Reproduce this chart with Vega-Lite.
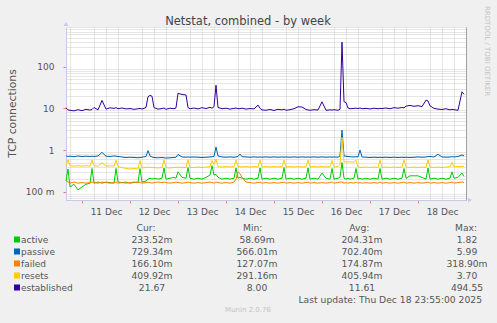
{
"$schema": "https://vega.github.io/schema/vega-lite/v6.json",
"width": 400, "height": 173,
"autosize": "none",
"padding": {"left": 66, "top": 27, "right": 31, "bottom": 123},
"background": "#f0f0f0",
"view": {"fill": "white", "stroke": null},
"config": {"font": "DejaVu Sans"},
"datasets": {
"main": [
{"t":"2025-12-10T16:00","a":0.18,"p":0.72,"f":0.18,"r":0.42,"e":10.3},
{"t":"2025-12-10T17:00","a":0.35,"p":0.70,"f":0.17,"r":0.58,"e":9.2},
{"t":"2025-12-10T18:00","a":0.13,"p":0.71,"f":0.16,"r":0.42,"e":9.0},
{"t":"2025-12-10T20:00","a":0.15,"p":0.69,"f":0.17,"r":0.41,"e":8.7},
{"t":"2025-12-10T22:00","a":0.11,"p":0.72,"f":0.16,"r":0.42,"e":9.3},
{"t":"2025-12-11T00:00","a":0.13,"p":0.70,"f":0.165,"r":0.41,"e":8.8},
{"t":"2025-12-11T02:00","a":0.15,"p":0.71,"f":0.16,"r":0.42,"e":9.5},
{"t":"2025-12-11T04:00","a":0.16,"p":0.70,"f":0.165,"r":0.41,"e":9.1},
{"t":"2025-12-11T05:00","a":0.36,"p":0.71,"f":0.17,"r":0.58,"e":9.4},
{"t":"2025-12-11T06:00","a":0.16,"p":0.70,"f":0.165,"r":0.42,"e":10.5},
{"t":"2025-12-11T08:00","a":0.17,"p":0.72,"f":0.16,"r":0.41,"e":9.2},
{"t":"2025-12-11T10:00","a":0.16,"p":0.88,"f":0.17,"r":0.50,"e":15.5},
{"t":"2025-12-11T12:00","a":0.17,"p":0.71,"f":0.165,"r":0.41,"e":9.6},
{"t":"2025-12-11T14:00","a":0.165,"p":0.70,"f":0.16,"r":0.42,"e":10.3},
{"t":"2025-12-11T16:00","a":0.16,"p":0.72,"f":0.165,"r":0.41,"e":10.0},
{"t":"2025-12-11T17:00","a":0.36,"p":0.71,"f":0.17,"r":0.57,"e":10.4},
{"t":"2025-12-11T18:00","a":0.17,"p":0.70,"f":0.16,"r":0.40,"e":9.8},
{"t":"2025-12-11T20:00","a":0.165,"p":0.68,"f":0.165,"r":0.38,"e":10.2},
{"t":"2025-12-11T22:00","a":0.17,"p":0.66,"f":0.16,"r":0.36,"e":9.7},
{"t":"2025-12-12T00:00","a":0.16,"p":0.67,"f":0.165,"r":0.35,"e":9.9},
{"t":"2025-12-12T02:00","a":0.165,"p":0.66,"f":0.17,"r":0.36,"e":9.5},
{"t":"2025-12-12T04:00","a":0.17,"p":0.65,"f":0.165,"r":0.35,"e":9.8},
{"t":"2025-12-12T05:00","a":0.36,"p":0.66,"f":0.17,"r":0.56,"e":10.0},
{"t":"2025-12-12T06:00","a":0.17,"p":0.67,"f":0.16,"r":0.37,"e":9.6},
{"t":"2025-12-12T08:00","a":0.18,"p":0.70,"f":0.165,"r":0.38,"e":10.5},
{"t":"2025-12-12T09:00","a":0.20,"p":0.97,"f":0.17,"r":0.39,"e":19.0},
{"t":"2025-12-12T10:00","a":0.21,"p":0.72,"f":0.165,"r":0.38,"e":20.5},
{"t":"2025-12-12T11:00","a":0.20,"p":0.68,"f":0.16,"r":0.38,"e":19.5},
{"t":"2025-12-12T12:00","a":0.21,"p":0.66,"f":0.165,"r":0.38,"e":10.4},
{"t":"2025-12-12T14:00","a":0.20,"p":0.65,"f":0.17,"r":0.37,"e":9.6},
{"t":"2025-12-12T16:00","a":0.21,"p":0.66,"f":0.165,"r":0.38,"e":9.9},
{"t":"2025-12-12T17:00","a":0.37,"p":0.65,"f":0.17,"r":0.58,"e":10.2},
{"t":"2025-12-12T18:00","a":0.20,"p":0.64,"f":0.165,"r":0.38,"e":9.5},
{"t":"2025-12-12T20:00","a":0.21,"p":0.65,"f":0.16,"r":0.37,"e":10.1},
{"t":"2025-12-12T22:00","a":0.22,"p":0.66,"f":0.165,"r":0.38,"e":9.8},
{"t":"2025-12-12T23:00","a":0.21,"p":0.67,"f":0.17,"r":0.38,"e":10.3},
{"t":"2025-12-13T00:00","a":0.30,"p":0.78,"f":0.165,"r":0.39,"e":23.0},
{"t":"2025-12-13T02:00","a":0.22,"p":0.68,"f":0.16,"r":0.38,"e":21.5},
{"t":"2025-12-13T04:00","a":0.21,"p":0.67,"f":0.165,"r":0.38,"e":21.0},
{"t":"2025-12-13T05:00","a":0.38,"p":0.68,"f":0.17,"r":0.58,"e":10.5},
{"t":"2025-12-13T06:00","a":0.21,"p":0.67,"f":0.165,"r":0.38,"e":9.8},
{"t":"2025-12-13T08:00","a":0.20,"p":0.68,"f":0.16,"r":0.38,"e":10.2},
{"t":"2025-12-13T10:00","a":0.21,"p":0.67,"f":0.165,"r":0.39,"e":9.7},
{"t":"2025-12-13T12:00","a":0.20,"p":0.66,"f":0.16,"r":0.38,"e":10.4},
{"t":"2025-12-13T14:00","a":0.22,"p":0.67,"f":0.165,"r":0.39,"e":9.9},
{"t":"2025-12-13T16:00","a":0.25,"p":0.68,"f":0.17,"r":0.40,"e":10.6},
{"t":"2025-12-13T17:00","a":0.42,"p":0.69,"f":0.165,"r":0.56,"e":10.1},
{"t":"2025-12-13T18:00","a":0.25,"p":0.70,"f":0.16,"r":0.45,"e":11.0},
{"t":"2025-12-13T19:00","a":0.26,"p":1.18,"f":0.17,"r":0.60,"e":36.0},
{"t":"2025-12-13T20:00","a":0.22,"p":0.72,"f":0.165,"r":0.40,"e":10.5},
{"t":"2025-12-13T22:00","a":0.20,"p":0.68,"f":0.16,"r":0.39,"e":9.8},
{"t":"2025-12-14T00:00","a":0.21,"p":0.67,"f":0.165,"r":0.40,"e":10.1},
{"t":"2025-12-14T02:00","a":0.20,"p":0.68,"f":0.16,"r":0.39,"e":9.6},
{"t":"2025-12-14T04:00","a":0.21,"p":0.67,"f":0.17,"r":0.40,"e":10.0},
{"t":"2025-12-14T05:00","a":0.37,"p":0.68,"f":0.20,"r":0.57,"e":10.2},
{"t":"2025-12-14T06:00","a":0.21,"p":0.70,"f":0.30,"r":0.40,"e":9.8},
{"t":"2025-12-14T07:00","a":0.22,"p":0.80,"f":0.27,"r":0.40,"e":9.9},
{"t":"2025-12-14T08:00","a":0.21,"p":0.69,"f":0.22,"r":0.39,"e":10.1},
{"t":"2025-12-14T10:00","a":0.20,"p":0.68,"f":0.17,"r":0.40,"e":9.6},
{"t":"2025-12-14T12:00","a":0.21,"p":0.67,"f":0.165,"r":0.39,"e":9.9},
{"t":"2025-12-14T14:00","a":0.20,"p":0.68,"f":0.16,"r":0.40,"e":9.7},
{"t":"2025-12-14T16:00","a":0.21,"p":0.67,"f":0.165,"r":0.39,"e":12.0},
{"t":"2025-12-14T17:00","a":0.37,"p":0.68,"f":0.17,"r":0.57,"e":10.0},
{"t":"2025-12-14T18:00","a":0.20,"p":0.67,"f":0.16,"r":0.39,"e":9.2},
{"t":"2025-12-14T20:00","a":0.21,"p":0.68,"f":0.165,"r":0.40,"e":9.0},
{"t":"2025-12-14T22:00","a":0.20,"p":0.67,"f":0.16,"r":0.39,"e":9.4},
{"t":"2025-12-15T00:00","a":0.21,"p":0.68,"f":0.165,"r":0.40,"e":8.9},
{"t":"2025-12-15T02:00","a":0.20,"p":0.67,"f":0.16,"r":0.39,"e":9.5},
{"t":"2025-12-15T04:00","a":0.21,"p":0.68,"f":0.165,"r":0.40,"e":9.2},
{"t":"2025-12-15T05:00","a":0.38,"p":0.67,"f":0.17,"r":0.57,"e":9.6},
{"t":"2025-12-15T06:00","a":0.20,"p":0.68,"f":0.16,"r":0.39,"e":9.0},
{"t":"2025-12-15T08:00","a":0.21,"p":0.67,"f":0.165,"r":0.40,"e":9.3},
{"t":"2025-12-15T10:00","a":0.20,"p":0.68,"f":0.16,"r":0.39,"e":9.8},
{"t":"2025-12-15T12:00","a":0.21,"p":0.67,"f":0.165,"r":0.40,"e":10.9},
{"t":"2025-12-15T14:00","a":0.20,"p":0.68,"f":0.16,"r":0.39,"e":10.8},
{"t":"2025-12-15T16:00","a":0.21,"p":0.67,"f":0.165,"r":0.40,"e":9.4},
{"t":"2025-12-15T17:00","a":0.37,"p":0.68,"f":0.17,"r":0.57,"e":9.2},
{"t":"2025-12-15T18:00","a":0.20,"p":0.67,"f":0.16,"r":0.39,"e":9.0},
{"t":"2025-12-15T20:00","a":0.21,"p":0.68,"f":0.165,"r":0.40,"e":9.3},
{"t":"2025-12-15T22:00","a":0.20,"p":0.67,"f":0.16,"r":0.39,"e":9.1},
{"t":"2025-12-16T00:00","a":0.28,"p":0.68,"f":0.165,"r":0.40,"e":14.4},
{"t":"2025-12-16T02:00","a":0.21,"p":0.67,"f":0.16,"r":0.39,"e":9.0},
{"t":"2025-12-16T04:00","a":0.20,"p":0.68,"f":0.165,"r":0.40,"e":9.2},
{"t":"2025-12-16T05:00","a":0.36,"p":0.67,"f":0.17,"r":0.56,"e":9.1},
{"t":"2025-12-16T06:00","a":0.20,"p":0.68,"f":0.16,"r":0.39,"e":9.3},
{"t":"2025-12-16T08:00","a":0.21,"p":0.67,"f":0.165,"r":0.40,"e":9.0},
{"t":"2025-12-16T09:00","a":0.22,"p":0.72,"f":0.17,"r":0.45,"e":9.5},
{"t":"2025-12-16T10:00","a":0.50,"p":3.0,"f":0.17,"r":2.0,"e":390},
{"t":"2025-12-16T11:00","a":0.21,"p":0.72,"f":0.16,"r":0.52,"e":14.4},
{"t":"2025-12-16T12:00","a":0.20,"p":0.71,"f":0.165,"r":0.52,"e":13.8},
{"t":"2025-12-16T13:00","a":0.21,"p":0.70,"f":0.16,"r":0.52,"e":10.2},
{"t":"2025-12-16T14:00","a":0.20,"p":0.69,"f":0.165,"r":0.52,"e":9.8},
{"t":"2025-12-16T16:00","a":0.21,"p":0.68,"f":0.16,"r":0.51,"e":10.0},
{"t":"2025-12-16T17:00","a":0.36,"p":0.69,"f":0.17,"r":0.57,"e":10.1},
{"t":"2025-12-16T18:00","a":0.20,"p":0.68,"f":0.16,"r":0.39,"e":9.9},
{"t":"2025-12-16T19:00","a":0.21,"p":1.0,"f":0.165,"r":0.39,"e":10.2},
{"t":"2025-12-16T20:00","a":0.20,"p":0.68,"f":0.16,"r":0.38,"e":9.8},
{"t":"2025-12-16T22:00","a":0.21,"p":0.67,"f":0.165,"r":0.39,"e":10.0},
{"t":"2025-12-17T00:00","a":0.20,"p":0.66,"f":0.16,"r":0.38,"e":9.7},
{"t":"2025-12-17T02:00","a":0.21,"p":0.67,"f":0.165,"r":0.39,"e":10.1},
{"t":"2025-12-17T04:00","a":0.20,"p":0.66,"f":0.16,"r":0.38,"e":9.8},
{"t":"2025-12-17T05:00","a":0.36,"p":0.67,"f":0.17,"r":0.57,"e":10.0},
{"t":"2025-12-17T06:00","a":0.20,"p":0.66,"f":0.16,"r":0.38,"e":9.9},
{"t":"2025-12-17T08:00","a":0.21,"p":0.67,"f":0.165,"r":0.39,"e":10.2},
{"t":"2025-12-17T10:00","a":0.20,"p":0.66,"f":0.16,"r":0.38,"e":9.8},
{"t":"2025-12-17T12:00","a":0.21,"p":0.67,"f":0.165,"r":0.39,"e":10.4},
{"t":"2025-12-17T14:00","a":0.20,"p":0.66,"f":0.16,"r":0.38,"e":10.1},
{"t":"2025-12-17T16:00","a":0.21,"p":0.67,"f":0.165,"r":0.39,"e":10.5},
{"t":"2025-12-17T17:00","a":0.36,"p":0.66,"f":0.17,"r":0.58,"e":10.3},
{"t":"2025-12-17T18:00","a":0.21,"p":0.67,"f":0.16,"r":0.39,"e":11.3},
{"t":"2025-12-17T20:00","a":0.24,"p":0.66,"f":0.165,"r":0.38,"e":11.8},
{"t":"2025-12-17T22:00","a":0.24,"p":0.67,"f":0.16,"r":0.39,"e":11.2},
{"t":"2025-12-18T00:00","a":0.24,"p":0.68,"f":0.165,"r":0.38,"e":11.6},
{"t":"2025-12-18T02:00","a":0.22,"p":0.67,"f":0.16,"r":0.39,"e":11.0},
{"t":"2025-12-18T04:00","a":0.20,"p":0.68,"f":0.165,"r":0.38,"e":15.8},
{"t":"2025-12-18T05:00","a":0.37,"p":0.69,"f":0.17,"r":0.58,"e":15.0},
{"t":"2025-12-18T06:00","a":0.20,"p":0.70,"f":0.16,"r":0.39,"e":11.5},
{"t":"2025-12-18T08:00","a":0.21,"p":0.68,"f":0.165,"r":0.38,"e":10.0},
{"t":"2025-12-18T10:00","a":0.20,"p":0.79,"f":0.16,"r":0.39,"e":9.6},
{"t":"2025-12-18T12:00","a":0.21,"p":0.68,"f":0.165,"r":0.38,"e":9.4},
{"t":"2025-12-18T14:00","a":0.20,"p":0.67,"f":0.16,"r":0.39,"e":9.8},
{"t":"2025-12-18T16:00","a":0.21,"p":0.68,"f":0.165,"r":0.40,"e":9.2},
{"t":"2025-12-18T17:00","a":0.30,"p":0.69,"f":0.17,"r":0.50,"e":9.5},
{"t":"2025-12-18T18:00","a":0.21,"p":0.68,"f":0.16,"r":0.40,"e":9.3},
{"t":"2025-12-18T20:00","a":0.22,"p":0.70,"f":0.165,"r":0.40,"e":9.0},
{"t":"2025-12-18T22:00","a":0.28,"p":0.76,"f":0.17,"r":0.40,"e":25.0},
{"t":"2025-12-18T23:00","a":0.23,"p":0.73,"f":0.166,"r":0.41,"e":21.7}
],
"leg": [
{"s":"a","name":"active","cur":"233.52m","min":"58.69m","avg":"204.31m","max":"1.82"},
{"s":"p","name":"passive","cur":"729.34m","min":"566.01m","avg":"702.40m","max":"5.99"},
{"s":"f","name":"failed","cur":"166.10m","min":"127.07m","avg":"174.87m","max":"318.90m"},
{"s":"r","name":"resets","cur":"409.92m","min":"291.16m","avg":"405.94m","max":"3.70"},
{"s":"e","name":"established","cur":"21.67","min":"8.00","avg":"11.61","max":"494.55"}
],
"hdr": [
{"c":"cur","h":"Cur:"},{"c":"min","h":"Min:"},{"c":"avg","h":"Avg:"},{"c":"max","h":"Max:"}
],
"notes": [
{"k":"title","txt":"Netstat, combined - by week"},
{"k":"upd","txt":"Last update: Thu Dec 18 23:55:00 2025"},
{"k":"munin","txt":"Munin 2.0.76"},
{"k":"rrd","txt":"RRDTOOL / TOBI OETIKER"}
],
"arrows": [{"k":"ya"},{"k":"xa"}]
},
"layer": [
{
"data": {"name": "main"},
"mark": {"type": "point", "opacity": 0},
"encoding": {
"x": {"field": "t", "type": "temporal",
 "scale": {"domain": [{"year":2025,"month":12,"date":10,"hours":16},{"year":2025,"month":12,"date":19,"hours":0}], "nice": false},
 "axis": {"orient": "top", "title": null, "labels": false, "ticks": false, "domain": false,
  "values": [{"year":2025,"month":12,"date":10,"hours":18},{"year":2025,"month":12,"date":11,"hours":6},{"year":2025,"month":12,"date":11,"hours":12},{"year":2025,"month":12,"date":11,"hours":18},{"year":2025,"month":12,"date":12,"hours":6},{"year":2025,"month":12,"date":12,"hours":12},{"year":2025,"month":12,"date":12,"hours":18},{"year":2025,"month":12,"date":13,"hours":6},{"year":2025,"month":12,"date":13,"hours":12},{"year":2025,"month":12,"date":13,"hours":18},{"year":2025,"month":12,"date":14,"hours":6},{"year":2025,"month":12,"date":14,"hours":12},{"year":2025,"month":12,"date":14,"hours":18},{"year":2025,"month":12,"date":15,"hours":6},{"year":2025,"month":12,"date":15,"hours":12},{"year":2025,"month":12,"date":15,"hours":18},{"year":2025,"month":12,"date":16,"hours":6},{"year":2025,"month":12,"date":16,"hours":12},{"year":2025,"month":12,"date":16,"hours":18},{"year":2025,"month":12,"date":17,"hours":6},{"year":2025,"month":12,"date":17,"hours":12},{"year":2025,"month":12,"date":17,"hours":18},{"year":2025,"month":12,"date":18,"hours":6},{"year":2025,"month":12,"date":18,"hours":12},{"year":2025,"month":12,"date":18,"hours":18}],
  "gridColor": "#cccccc", "gridDash": [1,1]}},
"y": {"field": "e", "type": "quantitative",
 "scale": {"type": "log", "domain": [0.063, 900], "nice": false},
 "axis": {"orient": "right", "title": null, "labels": false, "ticks": false, "domainColor": "#a0a0a0",
  "values": [0.07,0.08,0.09,0.2,0.3,0.4,0.5,0.6,0.7,0.8,0.9,2,3,4,5,6,7,8,9,20,30,40,50,60,70,80,90,200,300,400,500,600,700,800,900],
  "gridColor": "#cccccc", "gridDash": [1,1]}}
}
},
{
"data": {"name": "main"},
"transform": [{"fold": ["a","p","f","r","e"], "as": ["s","v"]}],
"mark": {"type": "line", "strokeWidth": 1},
"encoding": {
"x": {"field": "t", "type": "temporal",
 "scale": {"domain": [{"year":2025,"month":12,"date":10,"hours":16},{"year":2025,"month":12,"date":19,"hours":0}], "nice": false},
 "axis": {"orient": "bottom", "title": null,
  "values": [{"year":2025,"month":12,"date":11},{"year":2025,"month":12,"date":12},{"year":2025,"month":12,"date":13},{"year":2025,"month":12,"date":14},{"year":2025,"month":12,"date":15},{"year":2025,"month":12,"date":16},{"year":2025,"month":12,"date":17},{"year":2025,"month":12,"date":18}],
  "format": "%d %b", "labelOffset": 24, "labelFontSize": 9, "labelColor": "#555555", "labelPadding": 4, "labelOverlap": false, "labelFlush": false, "labelBound": false,
  "tickSize": 3, "tickColor": "#e08080", "gridColor": "#eeaaaa", "gridDash": [1,1], "domainColor": "#c8c8e8"}},
"y": {"field": "v", "type": "quantitative",
 "scale": {"type": "log", "domain": [0.063, 900], "nice": false},
 "axis": {"orient": "left", "title": "TCP connections", "titleFontSize": 10.8, "titleFontWeight": "normal", "titleColor": "#555555", "titleX": -51, "titleY": 86, "titleBaseline": "alphabetic",
  "values": [0.1, 1, 10, 100],
  "labelExpr": "datum.value == 0.1 ? '100 m' : datum.value == 1 ? '1' : datum.value == 10 ? '10' : '100'",
  "labelFontSize": 9, "labelColor": "#555555", "labelOverlap": false, "labelFlush": false, "labelBound": false, "labelPadding": 9,
  "tickSize": 3, "tickColor": "#e08080", "gridColor": "#eeaaaa", "gridDash": [1,1], "domainColor": "#c8c8e8"}},
"color": {"field": "s", "type": "nominal", "scale": {"domain": ["a","p","f","r","e"], "range": ["#00cc00","#0066b3","#ff8000","#ffcc00","#330099"]}, "legend": null}
}
},
{
"data": {"name": "arrows"},
"mark": {"type": "point", "filled": true, "opacity": 1, "color": "#c8c8f0", "size": 22},
"encoding": {
"x": {"field": "k", "type": "nominal", "scale": {"type": "point", "domain": ["ya","xa"], "range": [0, 404], "padding": 0}, "axis": null},
"y": {"field": "k", "type": "nominal", "scale": {"type": "point", "domain": ["ya","xa"], "range": [-3, 173], "padding": 0}, "axis": null},
"shape": {"field": "k", "type": "nominal", "scale": {"domain": ["ya","xa"], "range": ["triangle-up","triangle-right"]}, "legend": null}
}
},
{
"data": {"name": "leg"},
"mark": {"type": "square", "size": 36, "opacity": 1},
"encoding": {
"x": {"datum": "sw", "type": "nominal", "scale": {"type": "point", "domain": ["sw"], "range": [-49, -49], "padding": 0}, "axis": null},
"y": {"field": "s", "type": "nominal", "scale": {"type": "point", "domain": ["a","p","f","r","e"], "range": [212.5, 260.5], "padding": 0}, "axis": null},
"color": {"field": "s", "type": "nominal", "legend": null}
}
},
{
"data": {"name": "leg"},
"mark": {"type": "text", "align": "left", "baseline": "middle", "fontSize": 9, "color": "#555555"},
"encoding": {
"x": {"datum": "lb", "type": "nominal", "scale": {"type": "point", "domain": ["lb"], "range": [-45, -45], "padding": 0}, "axis": null},
"y": {"field": "s", "type": "nominal", "scale": {"type": "point", "domain": ["a","p","f","r","e"], "range": [212.5, 260.5], "padding": 0}, "axis": null},
"text": {"field": "name"}
}
},
{
"data": {"name": "leg"},
"transform": [{"fold": ["cur","min","avg","max"], "as": ["c","val"]}],
"mark": {"type": "text", "align": "center", "baseline": "middle", "fontSize": 9.2, "color": "#555555"},
"encoding": {
"x": {"field": "c", "type": "nominal", "scale": {"type": "point", "domain": ["cur","min","avg","max"], "range": [86, 401], "padding": 0}, "axis": null},
"y": {"field": "s", "type": "nominal", "scale": {"type": "point", "domain": ["a","p","f","r","e"], "range": [212.5, 260.5], "padding": 0}, "axis": null},
"text": {"field": "val"}
}
},
{
"data": {"name": "hdr"},
"mark": {"type": "text", "align": "center", "baseline": "middle", "fontSize": 9.2, "color": "#555555"},
"encoding": {
"x": {"field": "c", "type": "nominal", "scale": {"type": "point", "domain": ["cur","min","avg","max"], "range": [80, 400], "padding": 0}, "axis": null},
"y": {"datum": "h", "type": "nominal", "scale": {"type": "point", "domain": ["h"], "range": [200.5, 200.5], "padding": 0}, "axis": null},
"text": {"field": "h"}
}
},
{
"data": {"name": "notes"},
"transform": [{"filter": "datum.k == 'title'"}],
"mark": {"type": "text", "align": "center", "baseline": "alphabetic", "fontSize": 11.5, "color": "#444444"},
"encoding": {
"x": {"field": "k", "type": "nominal", "scale": {"type": "point", "domain": ["title"], "range": [182, 182], "padding": 0}, "axis": null},
"y": {"field": "k", "type": "nominal", "scale": {"type": "point", "domain": ["title"], "range": [-2.5, -2.5], "padding": 0}, "axis": null},
"text": {"field": "txt"}
}
},
{
"data": {"name": "notes"},
"transform": [{"filter": "datum.k == 'upd'"}],
"mark": {"type": "text", "align": "right", "baseline": "middle", "fontSize": 9.2, "color": "#555555"},
"encoding": {
"x": {"field": "k", "type": "nominal", "scale": {"type": "point", "domain": ["upd"], "range": [416, 416], "padding": 0}, "axis": null},
"y": {"field": "k", "type": "nominal", "scale": {"type": "point", "domain": ["upd"], "range": [272.5, 272.5], "padding": 0}, "axis": null},
"text": {"field": "txt"}
}
},
{
"data": {"name": "notes"},
"transform": [{"filter": "datum.k == 'munin'"}],
"mark": {"type": "text", "align": "center", "baseline": "middle", "fontSize": 7, "color": "#c4c4c4"},
"encoding": {
"x": {"field": "k", "type": "nominal", "scale": {"type": "point", "domain": ["munin"], "range": [182, 182], "padding": 0}, "axis": null},
"y": {"field": "k", "type": "nominal", "scale": {"type": "point", "domain": ["munin"], "range": [283, 283], "padding": 0}, "axis": null},
"text": {"field": "txt"}
}
},
{
"data": {"name": "notes"},
"transform": [{"filter": "datum.k == 'rrd'"}],
"mark": {"type": "text", "align": "center", "baseline": "middle", "fontSize": 7, "angle": 90, "color": "#c4c4c4"},
"encoding": {
"x": {"field": "k", "type": "nominal", "scale": {"type": "point", "domain": ["rrd"], "range": [421, 421], "padding": 0}, "axis": null},
"y": {"field": "k", "type": "nominal", "scale": {"type": "point", "domain": ["rrd"], "range": [24, 24], "padding": 0}, "axis": null},
"text": {"field": "txt"}
}
}
],
"resolve": {"scale": {"x": "independent", "y": "independent", "shape": "independent"}}
}
